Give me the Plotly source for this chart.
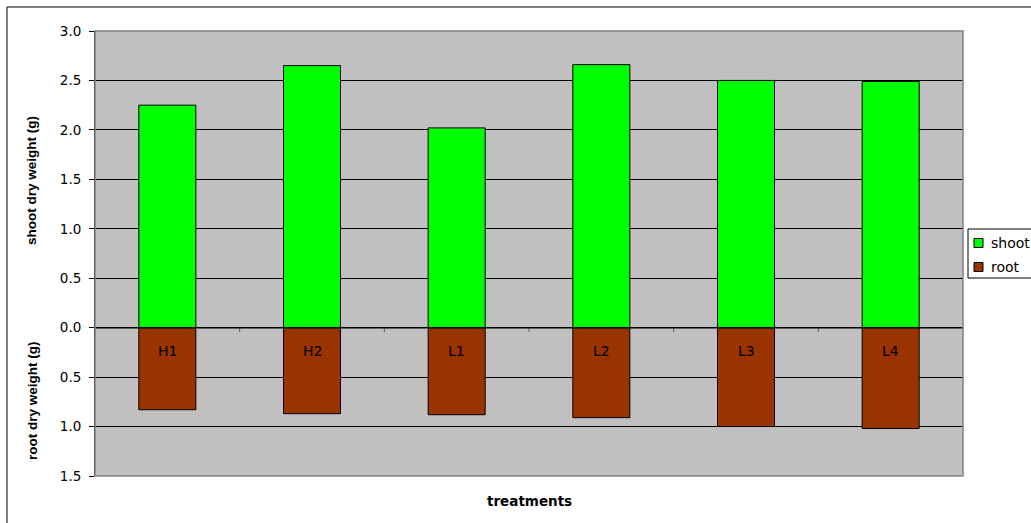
import plotly.graph_objects as go

categories = ["H1", "H2", "L1", "L2", "L3", "L4"]
shoot = [2.25, 2.65, 2.02, 2.66, 2.50, 2.49]
root = [0.83, 0.87, 0.88, 0.91, 1.00, 1.02]
tick_vals = [3.0, 2.5, 2.0, 1.5, 1.0, 0.5, 0.0, -0.5, -1.0, -1.5]
tick_text = ["3.0", "2.5", "2.0", "1.5", "1.0", "0.5", "0.0", "0.5", "1.0", "1.5"]
series_names = ["shoot", "root"]
series_colors = ["#00FF00", "#993300"]

W, H = 1031, 523
ml, mr, mt, mb = 95, 68, 31, 47
pw, ph = W - ml - mr, H - mt - mb


def px(xp):
    return (xp - ml) / pw


def py(yp):
    return (H - mb - yp) / ph


hfont = "DejaVu Sans, Arial, sans-serif"
vfont = "Liberation Sans, Arial, sans-serif"

fig = go.Figure()
fig.add_trace(go.Bar(
    x=categories, y=shoot, name=series_names[0],
    marker=dict(color=series_colors[0], line=dict(color="black", width=1)),
    width=0.394, showlegend=False,
))
fig.add_trace(go.Bar(
    x=categories, y=[-v for v in root], name=series_names[1],
    marker=dict(color=series_colors[1], line=dict(color="black", width=1)),
    width=0.394, showlegend=False,
))

annotations = []
for c in categories:
    annotations.append(dict(x=c, y=0, xref="x", yref="y", text=c, showarrow=False,
                            yanchor="middle", yshift=-23,
                            font=dict(family=hfont, size=14, color="black")))
annotations.append(dict(x=px(32), y=py(180), xref="paper", yref="paper",
                        xanchor="center", yanchor="middle",
                        text="<b>shoot dry weight (g)</b>", textangle=-90, showarrow=False,
                        font=dict(family=vfont, size=13.5, color="black")))
annotations.append(dict(x=px(32), y=py(400), xref="paper", yref="paper",
                        xanchor="center", yanchor="middle",
                        text="<b>root dry weight (g)</b>", textangle=-90, showarrow=False,
                        font=dict(family=vfont, size=13.5, color="black")))
annotations.append(dict(x=px(529), y=py(501), xref="paper", yref="paper",
                        xanchor="center", yanchor="middle",
                        text="<b>treatments</b>", showarrow=False,
                        font=dict(family=hfont, size=13.5, color="black")))

shapes = []
# category tick marks on the zero line
for i in range(len(categories) - 1):
    shapes.append(dict(type="line", xref="x", yref="y", x0=i + 0.5, x1=i + 0.5, y0=0, y1=-0.045,
                       line=dict(color="#606060", width=1)))
# zero line
shapes.append(dict(type="line", xref="paper", yref="y", x0=0, x1=1, y0=0, y1=0,
                   line=dict(color="black", width=1.5), layer="above"))
# plot area border
shapes.append(dict(type="rect", xref="paper", yref="paper", x0=0, x1=1, y0=0, y1=1,
                   line=dict(color="#808080", width=1.5)))
# chart area border
shapes.append(dict(type="rect", xref="paper", yref="paper",
                   x0=px(7), x1=px(1045), y0=py(540), y1=py(7),
                   line=dict(color="black", width=1)))
# manual legend
shapes.append(dict(type="rect", xref="paper", yref="paper",
                   x0=px(968), x1=px(1045), y0=py(278), y1=py(229),
                   line=dict(color="black", width=1), fillcolor="white"))
legend_y = [243, 267]
for name, col, ly in zip(series_names, series_colors, legend_y):
    shapes.append(dict(type="rect", xref="paper", yref="paper",
                       x0=px(974), x1=px(983), y0=py(ly + 4.5), y1=py(ly - 4.5),
                       line=dict(color="black", width=1), fillcolor=col))
    annotations.append(dict(x=px(989), y=py(ly), xref="paper", yref="paper", text=name,
                            showarrow=False, xanchor="left", yanchor="middle",
                            font=dict(family=hfont, size=14, color="black")))

fig.update_layout(
    width=W, height=H,
    margin=dict(l=ml, r=mr, t=mt, b=mb, autoexpand=False),
    paper_bgcolor="white", plot_bgcolor="#C0C0C0",
    barmode="relative",
    showlegend=False,
    xaxis=dict(showticklabels=False, showgrid=False, zeroline=False, ticks="",
               range=[-0.5, 5.5], fixedrange=True),
    yaxis=dict(range=[-1.5, 3.0], tickvals=tick_vals, ticktext=tick_text,
               showgrid=True, gridcolor="#000000", gridwidth=1, zeroline=False,
               showline=True, linecolor="black", linewidth=1,
               ticks="outside", ticklen=5, tickcolor="black", ticklabelstandoff=5,
               tickfont=dict(family=hfont, size=13.5, color="black"), fixedrange=True),
    annotations=annotations, shapes=shapes,
)

fig.write_html("out.html", config={"displayModeBar": False, "staticPlot": True},
               post_script="document.body.style.margin='0px';document.body.style.overflow='hidden';")
